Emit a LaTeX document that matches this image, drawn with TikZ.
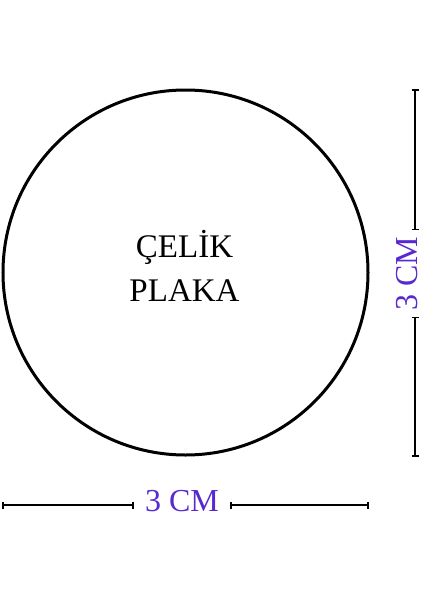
\documentclass[tikz,border=0pt]{standalone}
\usepackage{fontspec}
\setmainfont{Liberation Serif}
\usepackage{tikz}
\usetikzlibrary{
        arrows.meta,
        positioning
    }
\definecolor{dimviolet}{RGB}{88,40,208}
\tikzset{dimline/.style={{Bar[width=7pt]}-{Bar[width=7pt]},line width=1.8pt}}
\tikzset{dimtext/.style={text=dimviolet,font=\fontsize{32}{38}\selectfont,inner sep=0pt}}
\tikzset{platetext/.style={font=\fontsize{33}{38}\selectfont,anchor=base,inner sep=0pt}}

\begin{document}
\begin{tikzpicture}[x=1pt,y=-1pt]
    		\useasboundingbox (0,0) rectangle (424,600);
    		% plate
    		\node[draw,circle,line width=3pt,minimum size=365pt,inner sep=0pt] (plate) at (185.5,272.5) {};
    		\node[platetext] (celik) at (184.5,257) {ÇELİK};
    		\node[platetext] (plaka) at ([yshift=-44pt]celik.base) {PLAKA};
    		% width
    		\node[dimtext,inner xsep=11pt] (hlabel) at (182,501) {3 CM};
    		\coordinate (hleft) at (2,505);
    		\coordinate (hright) at (369,505);
    		\draw[dimline] (hleft) -- (hleft -| hlabel.west);
    		\draw[dimline] (hright -| hlabel.east) -- (hright);
    		% height
    		\node[dimtext,rotate=90,inner xsep=6pt] (vlabel) at (407.5,273.5) {3 CM};
    		\coordinate (vtop) at (415,89);
    		\coordinate (vbottom) at (415,457);
    		\draw[dimline] (vtop) -- (vtop |- vlabel.east);
    		\draw[dimline] (vbottom |- vlabel.west) -- (vbottom);
        \end{tikzpicture}
\end{document}
